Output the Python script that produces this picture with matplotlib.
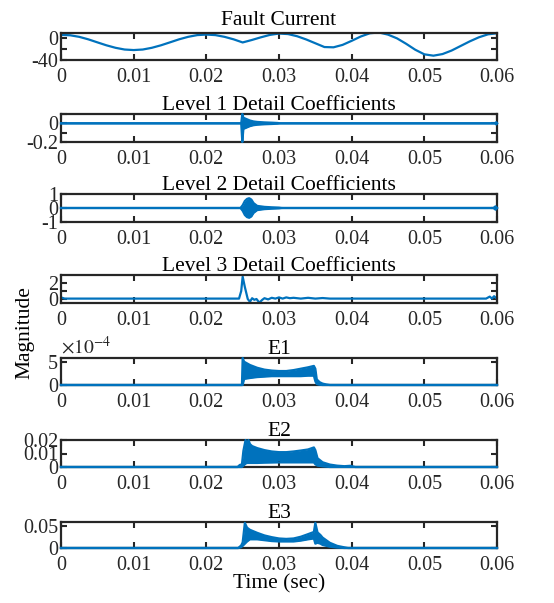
import numpy as np
import matplotlib
matplotlib.use('Agg')
import matplotlib.pyplot as plt

plt.rcParams['font.family'] = ['Liberation Serif', 'DejaVu Serif']
plt.rcParams['mathtext.fontset'] = 'stix'

blue = '#0072BD'

# Fault current (A)
fc_t = [0, 0.00125, 0.0025, 0.00375, 0.005, 0.00625, 0.0075, 0.00875, 0.01,
        0.01125, 0.0125, 0.01375, 0.015, 0.01625, 0.0175, 0.01875, 0.02,
        0.02125, 0.0225, 0.02375, 0.025,
        0.02625, 0.0275, 0.02875, 0.03, 0.03125, 0.0325, 0.03375, 0.035,
        0.03625, 0.0375, 0.03875, 0.04, 0.04125, 0.0425, 0.04375, 0.045,
        0.04625, 0.0475, 0.04875, 0.05, 0.05125, 0.0525, 0.05375, 0.055,
        0.05625, 0.0575, 0.05875, 0.06]
fc_i = [6.5, 5.8, 2.9, -1.7, -7.3, -12.8, -17.4, -20.6, -21.6,
        -20.6, -17.4, -12.8, -7.3, -1.7, 2.9, 6.1, 7.1,
        6.1, 2.9, -1.7, -7.5,
        -3, 2, 6.5, 9, 8, 4, -2, -9,
        -16, -16.5, -12, -4.5, 3.5, 9.5, 11, 7,
        0, -10, -21, -29.5, -32, -29, -22.5, -14,
        -5.5, 2, 7.5, 9.5]

# Level 1 detail coefficients (upper / lower envelope of the burst)
l1_t = [0, 0.0248, 0.02495, 0.0251, 0.0254, 0.0257, 0.026, 0.0265, 0.027,
        0.028, 0.029, 0.0298, 0.0302, 0.0597, 0.0599, 0.06]
l1_hi = [0, 0, 0.1, 0.06, 0.05, 0.04, 0.03, 0.02, 0.015, 0.01, 0.007, 0.004,
         0, 0, 0.012, 0]
l1_lo = [0, 0, -0.2, -0.06, -0.05, -0.04, -0.03, -0.02, -0.015, -0.01, -0.007,
         -0.004, 0, 0, -0.012, 0]

# Level 2 detail coefficients (symmetric envelope)
l2_t = [0, 0.0247, 0.025, 0.0253, 0.0256, 0.0259, 0.0262, 0.0265, 0.027,
        0.028, 0.029, 0.030, 0.0305, 0.0595, 0.0598, 0.06]
l2_amp = [0, 0, 0.2, 0.5, 0.65, 0.7, 0.6, 0.35, 0.15, 0.08, 0.05, 0.03, 0, 0,
          0.12, 0]

# Level 3 detail coefficients
l3_t = [0, 0.0005, 0.0245, 0.0248, 0.025, 0.0253, 0.0257, 0.026, 0.0263,
        0.0266, 0.0269, 0.0273, 0.0277, 0.028, 0.0285, 0.029, 0.0295, 0.03,
        0.0305, 0.031, 0.0315, 0.032, 0.033, 0.034, 0.035, 0.036, 0.037,
        0.0585, 0.059, 0.0593, 0.0596, 0.06]
l3_v = [0.2, 0.05, 0.05, 1.0, 2.8, 1.5, 0.0, -0.35, 0.1, -0.1, 0.0, -0.45,
        -0.1, 0.1, -0.05, 0.15, 0.05, 0.2, 0.05, 0.2, 0.1, 0.15, 0.05, 0.15,
        0.05, 0.12, 0.05, 0.05, 0.3, 0.05, 0.35, 0.0]

# Energy E1 (x1e-4)
e1_t = [0, 0.0249, 0.025, 0.0252, 0.026, 0.027, 0.028, 0.029, 0.030, 0.031,
        0.032, 0.033, 0.034, 0.0348, 0.035, 0.0352, 0.0356, 0.036, 0.0365,
        0.037, 0.06]
e1_hi = [0, 0, 5.8, 5.0, 4.3, 3.7, 3.3, 3.1, 3.0, 3.0, 3.2, 3.5, 3.8, 4.1,
         3.5, 1.2, 0.6, 0.3, 0.12, 0, 0]
e1_lo = [0, 0, 0, 1.3, 1.5, 1.7, 1.8, 1.9, 1.9, 1.9, 1.9, 1.9, 2.0, 2.0,
         0.8, 0.2, 0.05, 0, 0, 0, 0]

# Energy E2
e2_t = [0, 0.0243, 0.0246, 0.0249, 0.0251, 0.0254, 0.0256, 0.0258, 0.026,
        0.0263, 0.027, 0.028, 0.029, 0.030, 0.031, 0.032, 0.033, 0.034,
        0.0348, 0.035, 0.0353, 0.036, 0.037, 0.038, 0.039, 0.0398, 0.0405,
        0.06]
e2_hi = [0, 0, 0.0015, 0.002, 0.012, 0.02, 0.016, 0.02, 0.017, 0.0155,
         0.014, 0.0125, 0.0115, 0.011, 0.011, 0.0115, 0.0122, 0.013, 0.0145,
         0.0125, 0.0065, 0.0035, 0.0018, 0.001, 0.0006, 0.0009, 0, 0]
e2_lo = [0, 0, 0, 0, 0.001, 0.0025, 0.003, 0.003, 0.003, 0.003, 0.003,
         0.0032, 0.0033, 0.0034, 0.0034, 0.0034, 0.0034, 0.0034, 0.0034,
         0.002, 0.001, 0.0005, 0, 0, 0, 0, 0, 0]

# Energy E3
e3_t = [0, 0.0244, 0.0248, 0.025, 0.0253, 0.0256, 0.026, 0.027, 0.028,
        0.029, 0.030, 0.031, 0.032, 0.033, 0.034, 0.0348, 0.035, 0.0353,
        0.0357, 0.036, 0.037, 0.038, 0.039, 0.0395, 0.06]
e3_hi = [0, 0, 0.006, 0.013, 0.058, 0.047, 0.042, 0.035, 0.029, 0.025,
         0.022, 0.021, 0.022, 0.026, 0.032, 0.037, 0.058, 0.036, 0.03, 0.024,
         0.012, 0.005, 0.0015, 0, 0]
e3_lo = [0, 0, 0.002, 0.005, 0.01, 0.015, 0.02, 0.02, 0.018, 0.016, 0.015,
         0.015, 0.015, 0.017, 0.02, 0.022, 0.01, 0.012, 0.01, 0.007, 0.003,
         0.001, 0, 0, 0]

titles = ['Fault Current', 'Level 1 Detail Coefficients',
          'Level 2 Detail Coefficients', 'Level 3 Detail Coefficients',
          'E1', 'E2', 'E3']
x_ticks = [0, 0.01, 0.02, 0.03, 0.04, 0.05, 0.06]
x_labels = ['0', '0.01', '0.02', '0.03', '0.04', '0.05', '0.06']

W, H = 554, 603
fig = plt.figure(figsize=(W / 100, H / 100), dpi=100)

# pixel top/bottom of each axes box
boxes = [(33, 60), (114, 142), (194, 222), (275, 303),
         (358, 385), (440, 467), (522, 548)]
left, right = 61, 497
title_pads = [6, 3, 3, 3, 3, 3, 3]

axes = []
for top, bot in boxes:
    ax = fig.add_axes([left / W, 1 - bot / H, (right - left) / W, (bot - top) / H])
    axes.append(ax)

lw = 1.6


def band(ax, t, lo, hi):
    ax.fill_between(t, lo, hi, color=blue, lw=0)
    ax.plot(t, hi, color=blue, lw=lw, clip_on=False, zorder=3)
    ax.plot(t, lo, color=blue, lw=lw, clip_on=False, zorder=3)


axes[0].plot(fc_t, fc_i, color=blue, lw=lw)
band(axes[1], l1_t, l1_lo, l1_hi)
band(axes[2], l2_t, -np.array(l2_amp), l2_amp)
axes[3].plot(l3_t, l3_v, color=blue, lw=lw)
band(axes[4], e1_t, np.array(e1_lo) * 1e-4, np.array(e1_hi) * 1e-4)
band(axes[5], e2_t, e2_lo, e2_hi)
band(axes[6], e3_t, e3_lo, e3_hi)

ylims = [(-40, 10), (-0.2, 0.1), (-1, 1), (-0.5, 3), (0, 5.8e-4), (0, 0.02), (0, 0.06)]
yticks = [[-40, -20, 0], [-0.2, -0.1, 0, 0.1], [-1, 0, 1], [0, 1, 2],
          [0, 5e-4], [0, 0.01, 0.02], [0, 0.05]]
ylabels = [['-40', '', '0'], ['-0.2', '', '0', ''], ['-1', '0', '1'],
           ['0', '', '2'], ['0', '5'], ['0', '0.01', '0.02'], ['0', '0.05']]

for ax, ttl, yl, yt, ytl, tp in zip(axes, titles, ylims, yticks, ylabels, title_pads):
    ax.set_xlim(0, 0.06)
    ax.set_ylim(*yl)
    ax.set_xticks(x_ticks)
    ax.set_xticklabels(x_labels)
    ax.set_yticks(yt)
    ax.set_yticklabels(ytl)
    ax.set_title(ttl, fontsize=15.5, pad=tp)
    ax.tick_params(direction='in', top=True, right=True, length=4, width=1.5,
                   labelsize=14.5, colors='#262626', labelcolor='#262626')
    ax.tick_params(axis='x', pad=5.5)
    ax.tick_params(axis='y', pad=2)
    for s in ax.spines.values():
        s.set_linewidth(1.6)
        s.set_color('#262626')

axes[4].text(0, 1.0, r'$\times10^{-4}$', transform=axes[4].transAxes,
             ha='left', va='bottom', fontsize=14, color='#262626')

fig.text(25 / W, 1 - 333 / H, 'Magnitude', rotation=90, ha='center',
         va='center', fontsize=15.5)
fig.text(279 / W, 1 - 584 / H, 'Time (sec)', ha='center', va='center',
         fontsize=15.5)

fig.savefig('out.png', dpi=100)
